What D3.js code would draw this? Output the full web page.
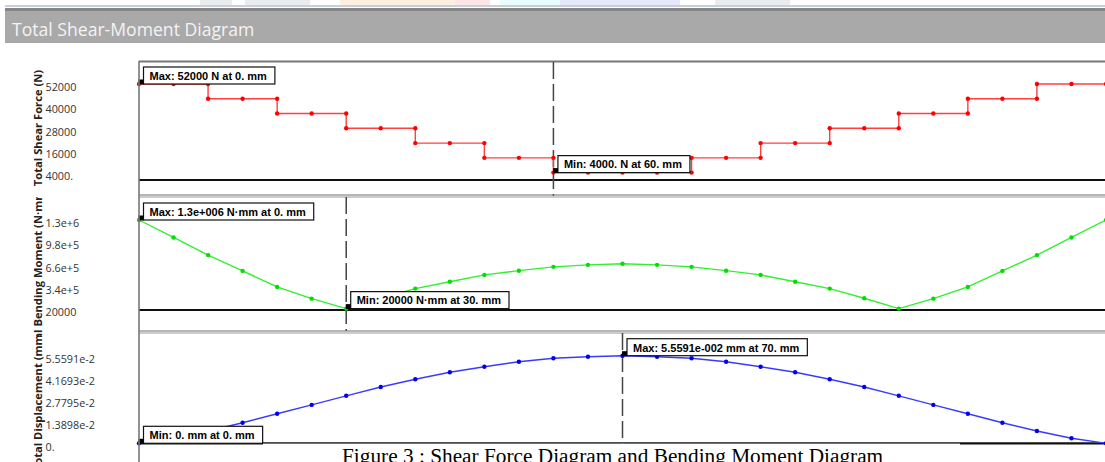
<!DOCTYPE html>
<meta charset="utf-8">
<script src="https://d3js.org/d3.v7.min.js"></script>

<style>
body {margin: 0; background: #fff;}
svg {display: block;}
.tick-label {font-family: "Open Sans", sans-serif; font-size: 10.8px; fill: #333;}
.axis-title {font-family: "Open Sans", sans-serif; font-weight: 700; font-size: 11.2px; fill: #222;}
.note text {font-family: "Liberation Sans", Arial, sans-serif; font-weight: bold; font-size: 11px; fill: #000;}
</style>

<svg width="1105" height="462"></svg>

<script>
// positions along the beam (mm)
var positions = [0,5,10,15,20,25,30,35,40,45,50,55,60,65,70,75,80,85,90,95,100,105,110,115,120,125,130,135,140];

// shear force is a step curve: each jump has two points at the same position
var shearX = [0,5,10,10,15,20,20,25,30,30,35,40,40,45,50,50,55,60,60,65,70,75,80,80,85,90,90,95,100,100,105,110,110,115,120,120,125,130,130,135,140];
var shearV = [52000,52000,52000,44000,44000,44000,36000,36000,36000,28000,28000,28000,20000,20000,20000,12000,12000,12000,
              4000,4000,4000,4000,4000,12000,12000,12000,20000,20000,20000,28000,28000,28000,36000,36000,36000,
              44000,44000,44000,52000,52000,52000];

var momentV = [1300000,1048000,793000,565000,333000,164000,20000,170000,309000,408000,507000,568000,623000,652000,667000,
               652000,623000,568000,507000,408000,309000,170000,20000,164000,333000,565000,793000,1048000,1300000];

var dispV = [0,0.00317,0.0078,0.01307,0.01878,0.02437,0.03014,0.03573,0.04061,0.04506,0.04861,0.05178,0.05394,0.05496,0.055591,
             0.05496,0.05394,0.05178,0.04861,0.04506,0.04061,0.03573,0.03014,0.02437,0.01878,0.01307,0.0078,0.00317,0];

var shearTicks = [52000, 40000, 28000, 16000, 4000];
var shearTickLabels = ["52000", "40000", "28000", "16000", "4000."];
var momentTicks = [1300000, 980000, 660000, 340000, 20000];
var momentTickLabels = ["1.3e+6", "9.8e+5", "6.6e+5", "3.4e+5", "20000"];
var dispTicks = [0.055591, 0.041693, 0.027795, 0.013898, 0];
var dispTickLabels = ["5.5591e-2", "4.1693e-2", "2.7795e-2", "1.3898e-2", "0."];

var titles = ["Total Shear Force (N)", "Total Bending Moment (N\u00b7mm)", "Total Displacement (mm)"];
var notes = [
  [{x: 0, v: 52000, text: "Max: 52000 N at 0. mm"}, {x: 60, v: 4000, text: "Min: 4000. N at 60. mm"}],
  [{x: 0, v: 1300000, text: "Max: 1.3e+006 N\u00b7mm at 0. mm"}, {x: 30, v: 20000, text: "Min: 20000 N\u00b7mm at 30. mm"}],
  [{x: 70, v: 0.055591, text: "Max: 5.5591e-002 mm at 70. mm"}, {x: 0, v: 0, text: "Min: 0. mm at 0. mm"}]
];
var cursorX = [60, 30, 70];

var svg = d3.select("svg");
var W = 1105, H = 462, left = 139;

var x = d3.scaleLinear().domain([0, 140]).range([left, 1106]);

var panels = [
  {top: 62, bottom: 196, y: d3.scaleLinear().domain([0, 52000]).range([180, 84]),
   xs: shearX, vs: shearV, ticks: shearTicks, labels: shearTickLabels,
   line: "#ff4040", dot: "#ff0000", titleY: 128, clip: [62, 196]},
  {top: 197, bottom: 331, y: d3.scaleLinear().domain([0, 1300000]).range([310, 220]),
   xs: positions, vs: momentV, ticks: momentTicks, labels: momentTickLabels,
   line: "#30f030", dot: "#00e000", titleY: 272, clip: [197, 336]},
  {top: 333, bottom: 467, y: d3.scaleLinear().domain([0, 0.055591]).range([443.3, 355.7]),
   xs: positions, vs: dispV, ticks: dispTicks, labels: dispTickLabels,
   line: "#3a3aff", dot: "#0000ee", titleY: 401, clip: [336, 462]}
];

// faint watermark fragments at the top edge
var marks = [[200, 232, "#e8ecef"], [245, 310, "#e8ecef"], [340, 455, "#fdf0e2"], [455, 490, "#fde6e6"],
             [500, 560, "#e9fdfe"], [560, 680, "#e6e8f9"], [715, 790, "#e8ecef"]];
svg.selectAll(".wm").data(marks).enter().append("rect")
    .attr("x", function(d) { return d[0]; })
    .attr("width", function(d) { return d[1] - d[0]; })
    .attr("y", 0).attr("height", 5)
    .attr("fill", function(d) { return d[2]; });

// title bar
svg.append("rect").attr("x", 5).attr("y", 5).attr("width", W - 5).attr("height", 2).attr("fill", "#c7cfda");
svg.append("rect").attr("x", 5).attr("y", 8).attr("width", W - 5).attr("height", 3).attr("fill", "#858585");
svg.append("rect").attr("x", 5).attr("y", 11).attr("width", W - 5).attr("height", 32).attr("fill", "#a9a9a9");
svg.append("text")
    .attr("x", 12).attr("y", 36)
    .attr("fill", "#f4f4f4")
    .style("font-family", "'Open Sans', sans-serif")
    .style("font-size", "17.6px")
    .text("Total Shear-Moment Diagram");

var defs = svg.append("defs");

panels.forEach(function(p, i) {
  var g = svg.append("g");

  // separator above the panel
  if (i == 0) {
    g.append("line").attr("x1", left).attr("x2", W).attr("y1", p.top - 0.5).attr("y2", p.top - 0.5)
        .attr("stroke", "#777").attr("stroke-width", 2);
  } else {
    g.append("line").attr("x1", left).attr("x2", W).attr("y1", p.top - 2).attr("y2", p.top - 2)
        .attr("stroke", "#6e6e6e").attr("stroke-width", 1.2);
    g.append("line").attr("x1", left).attr("x2", W).attr("y1", p.top).attr("y2", p.top)
        .attr("stroke", "#9a9a9a").attr("stroke-width", 1.2);
  }

  // zero line
  g.append("line").attr("x1", left).attr("x2", W)
      .attr("y1", p.y(0)).attr("y2", p.y(0))
      .attr("stroke", "#111").attr("stroke-width", 2.2);

  // cursor
  g.append("line")
      .attr("x1", x(cursorX[i])).attr("x2", x(cursorX[i]))
      .attr("y1", p.top).attr("y2", Math.min(p.bottom, H))
      .attr("stroke", "#444").attr("stroke-width", 1.5)
      .attr("stroke-dasharray", "17,5");

  // tick labels
  g.selectAll(".tick-label").data(p.ticks).enter().append("text")
      .attr("class", "tick-label")
      .attr("x", 45.5)
      .attr("y", function(d) { return p.y(d) + 3.5; })
      .attr("dy", "0.35em")
      .text(function(d, k) { return p.labels[k]; });

  // axis title, clipped to its panel
  defs.append("clipPath").attr("id", "tc" + i).append("rect")
      .attr("x", 0).attr("y", p.clip[0]).attr("width", 60).attr("height", p.clip[1] - p.clip[0]);
  g.append("g").attr("clip-path", "url(#tc" + i + ")")
    .append("text")
      .attr("class", "axis-title")
      .attr("text-anchor", "middle")
      .attr("dominant-baseline", "central")
      .attr("transform", "translate(37," + p.titleY + ") rotate(-90)")
      .text(titles[i]);

  // curve and points
  var pts = p.xs.map(function(d, k) { return [d, p.vs[k]]; });
  var line = d3.line().x(function(d) { return x(d[0]); }).y(function(d) { return p.y(d[1]); });
  g.append("path").datum(pts)
      .attr("d", line)
      .attr("fill", "none")
      .attr("stroke", p.line)
      .attr("stroke-width", 1.4);
  g.selectAll(".pt").data(pts).enter().append("circle")
      .attr("cx", function(d) { return x(d[0]); })
      .attr("cy", function(d) { return p.y(d[1]); })
      .attr("r", 2.2)
      .attr("fill", p.dot);

  // max / min notes
  notes[i].forEach(function(n) {
    var px = x(n.x), py = p.y(n.v);
    var ng = g.append("g").attr("class", "note");
    var box = ng.append("rect");
    var t = ng.append("text").attr("x", px + 10.5).attr("y", py - 4.2).text(n.text);
    var w = t.node().getComputedTextLength();
    box.attr("x", px + 4.5).attr("y", py - 17).attr("width", w + 14).attr("height", 17)
        .attr("fill", "#fff").attr("stroke", "#111").attr("stroke-width", 1.2);
    ng.append("rect").attr("x", px - 0.5).attr("y", py - 4.5).attr("width", 5).attr("height", 5).attr("fill", "#000");
  });
});

// left border of the plotting area
svg.append("line").attr("x1", left).attr("x2", left).attr("y1", 61).attr("y2", H)
    .attr("stroke", "#777").attr("stroke-width", 1.6);

// caption pasted over the bottom of the chart
svg.append("rect").attr("x", 263).attr("y", 443.6).attr("width", 697).attr("height", 20).attr("fill", "#fff");
svg.append("text")
    .attr("x", 342).attr("y", 463)
    .style("font-family", "'Liberation Serif', 'Times New Roman', serif")
    .style("font-size", "21.3px")
    .attr("fill", "#000")
    .text("Figure 3 : Shear Force Diagram and Bending Moment Diagram");
</script>
